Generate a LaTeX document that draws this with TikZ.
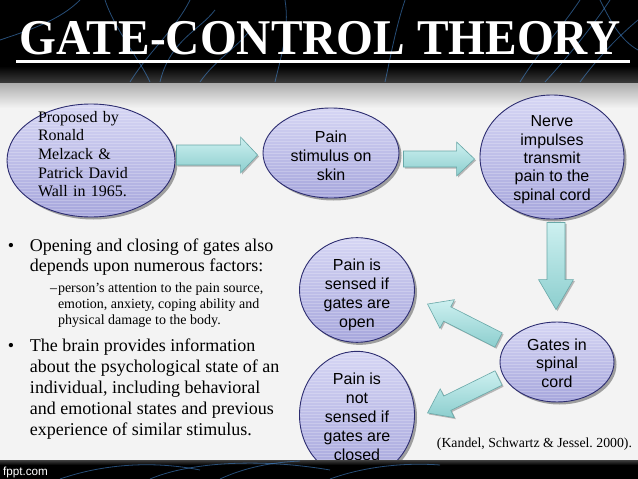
\documentclass[tikz,border=0pt]{standalone}
\usepackage{graphicx}
\usepackage{fontspec}
\setmainfont{Liberation Serif}
\newfontfamily\sansfont{Liberation Sans}
\usetikzlibrary{calc,shapes.geometric,shadows}
\definecolor{ellTop}{RGB}{214,214,244}
\definecolor{ellBot}{RGB}{166,166,220}
\definecolor{ellLine}{RGB}{45,45,112}
\definecolor{arrTop}{RGB}{205,240,240}
\definecolor{arrBot}{RGB}{140,206,206}
\definecolor{arrLine}{RGB}{105,168,168}
\definecolor{streakc}{RGB}{70,140,215}
\definecolor{bodybg}{RGB}{243,243,243}
\definecolor{shadowgray}{RGB}{170,170,170}
\frenchspacing
\tikzset{
  ell/.style={ellipse, draw=ellLine, line width=0.9pt, top color=ellTop, bottom color=ellBot,
    inner sep=0pt, text=black, text depth=0pt,
    drop shadow={shadow xshift=2.5pt, shadow yshift=-2.5pt, opacity=0.35, fill=black},
    path picture={\foreach \k in {1,...,45}{\draw[white,opacity=0.22,line width=0.5pt]
      ([yshift={-3pt*\k}]path picture bounding box.north west) --
      ([yshift={-3pt*\k}]path picture bounding box.north east);}}},
  serifbox/.style={font=\fontsize{16}{18.7}\selectfont, align=left},
  sansbox/.style={font=\sansfont\fontsize{16}{19}\selectfont, align=center},
  barrow/.style={draw=arrLine, line width=0.6pt, top color=arrTop, bottom color=arrBot,
    drop shadow={shadow xshift=1.5pt, shadow yshift=-1.5pt, opacity=0.25, fill=black}},
  streak/.style={draw=streakc, line width=0.8pt, opacity=0.55},
  plain/.style={inner sep=0pt, outer sep=0pt},
}
% #1 start, #2 end, #3 shaft half width, #4 head half width, #5 head length
\newcommand\blockarrow[5]{%
  \path (#1); \pgfgetlastxy{\bax}{\bay}%
  \path (#2); \pgfgetlastxy{\bbx}{\bby}%
  \pgfmathsetmacro\baang{atan2(\bby-\bay,\bbx-\bax)}%
  \pgfmathsetmacro\balen{veclen(\bbx-\bax,\bby-\bay)}%
  \begin{scope}[shift={(\bax,\bay)},rotate=\baang]
    \path[barrow] (0,#3) -- (\balen-#5,#3) -- (\balen-#5,#4) -- (\balen,0)
      -- (\balen-#5,-#4) -- (\balen-#5,-#3) -- (0,-#3) -- cycle;
  \end{scope}}
\begin{document}
\begin{tikzpicture}[x=1pt,y=-1pt]
\useasboundingbox (0,0) rectangle (638,479);
% body background
\fill[bodybg] (0,0) rectangle (638,479);
\shade[top color=shadowgray, bottom color=bodybg] (0,82) rectangle (638,108);
% top banner
\fill[black] (0,0) rectangle (638,82);
\shade[top color=black, bottom color=black!78] (0,66) rectangle (638,82);
\draw[streak] (0,40) .. controls (30,30) and (60,20) .. (80,0);
\draw[streak] (105,0) .. controls (115,30) and (140,60) .. (150,82);
\draw[streak] (130,82) .. controls (150,50) and (175,30) .. (190,0);
\draw[streak] (160,82) .. controls (170,40) and (200,30) .. (215,10);
\draw[streak] (200,82) .. controls (215,60) and (240,45) .. (250,30);
\draw[streak] (285,0) .. controls (290,30) and (280,60) .. (275,82);
\draw[streak] (385,82) .. controls (390,60) and (395,30) .. (405,0);
\draw[streak] (520,82) .. controls (540,50) and (560,30) .. (580,0);
\draw[streak] (545,82) .. controls (565,60) and (590,30) .. (610,0);
\draw[streak] (580,82) .. controls (600,55) and (620,35) .. (638,20);
\draw[streak] (600,0) .. controls (610,20) and (620,40) .. (638,50);
\node[plain, anchor=base, text=white, font=\bfseries\fontsize{50}{50}\selectfont] (title) at (320,54)
  {\scalebox{0.947}[1]{GATE-CONTROL THEORY}};
\draw[white, line width=3.5pt] (16,61.5) -- (630,61.5);

% ellipses
\node[ell, serifbox, minimum width=168pt, minimum height=113pt, text width=106pt, text height=0pt, text depth=77pt] (e1) at (91,160.5)
  {Proposed by\\Ronald\\Melzack \&\\Patrick David\\Wall in 1965.};
\node[ell, sansbox, minimum width=136pt, minimum height=90pt, text height=55pt] (e2) at (331,153)
  {Pain\\stimulus on\\skin};
\node[ell, sansbox, font=\sansfont\fontsize{16}{18.3}\selectfont, minimum width=144pt, minimum height=124pt, text height=86pt] (e3) at (552,157)
  {Nerve\\impulses\\transmit\\pain to the\\spinal cord};
\node[ell, sansbox, font=\sansfont\fontsize{16}{18.5}\selectfont, minimum width=114pt, minimum height=80pt, text height=50pt] (e4) at (557,362)
  {Gates in\\spinal\\cord};
\node[ell, sansbox, minimum width=115pt, minimum height=100pt, text height=74pt] (e5) at (357,290)
  {Pain is\\sensed if\\gates are\\open};
\node[ell, sansbox, minimum width=115pt, minimum height=100pt, text height=90pt] (e6) at (357,415)
  {Pain is\\not\\sensed if\\gates are\\closed};

% block arrows
\blockarrow{$(e1.east)+(1,-5.5)$}{$(e2.west)+(-5,2)$}{10}{18}{17}
\blockarrow{$(e2.east)+(4,6)$}{$(e3.west)+(-5,2)$}{8}{17}{18}
\blockarrow{$(e3.south)+(4,3)$}{$(e4.north)+(-1,-12)$}{9}{17.5}{30}
\blockarrow{$(e4.west)+(-1,-22)$}{$(e5.east)+(12.5,14)$}{8}{16}{22}
\blockarrow{$(e4.west)+(-1,16)$}{$(e6.east)+(12.5,-2)$}{8}{16}{22}

% bullet text
\node[plain, anchor=base west, font=\fontsize{18}{20.5}\selectfont] (bul1) at (8,251) {•};
\node[plain, anchor=base west, font=\fontsize{18}{20}\selectfont] (txt1) at (30,251)
  {\begin{tabular}[t]{@{}l@{}}Opening and closing of gates also\\depends upon numerous factors:\end{tabular}};
\node[plain, anchor=base west, font=\fontsize{14}{16.3}\selectfont] (dash1) at (50,292) {–};
\node[plain, anchor=base west, font=\fontsize{14}{16.3}\selectfont] (txt2) at (58,292)
  {\begin{tabular}[t]{@{}l@{}}person’s attention to the pain source,\\emotion, anxiety, coping ability and\\physical damage to the body.\end{tabular}};
\node[plain, anchor=base west, font=\fontsize{18}{20.5}\selectfont] (bul2) at (8,351) {•};
\node[plain, anchor=base west, font=\fontsize{18}{21}\selectfont] (txt3) at (30,351)
  {\begin{tabular}[t]{@{}l@{}}The brain provides information\\about the psychological state of an\\individual, including behavioral\\and emotional states and previous\\experience of similar stimulus.\end{tabular}};
\node[plain, anchor=base east, font=\fontsize{13.8}{16}\selectfont] (cite) at (632,447)
  {(Kandel, Schwartz \& Jessel. 2000).};

% bottom band
\fill[black] (0,460) rectangle (638,479);
\shade[top color=black!75, bottom color=black] (0,460) rectangle (638,465);
\draw[streak] (60,479) .. controls (100,465) and (150,460) .. (200,470);
\draw[streak] (150,479) .. controls (190,462) and (260,458) .. (330,470);
\draw[streak] (220,479) .. controls (250,465) and (280,462) .. (300,461);
\draw[streak] (330,479) .. controls (360,468) and (400,462) .. (440,465);
\node[plain, anchor=base west, text=white, font=\sansfont\fontsize{11.7}{12}\selectfont] (fppt) at (3,475) {fppt.com};
\end{tikzpicture}
\end{document}
